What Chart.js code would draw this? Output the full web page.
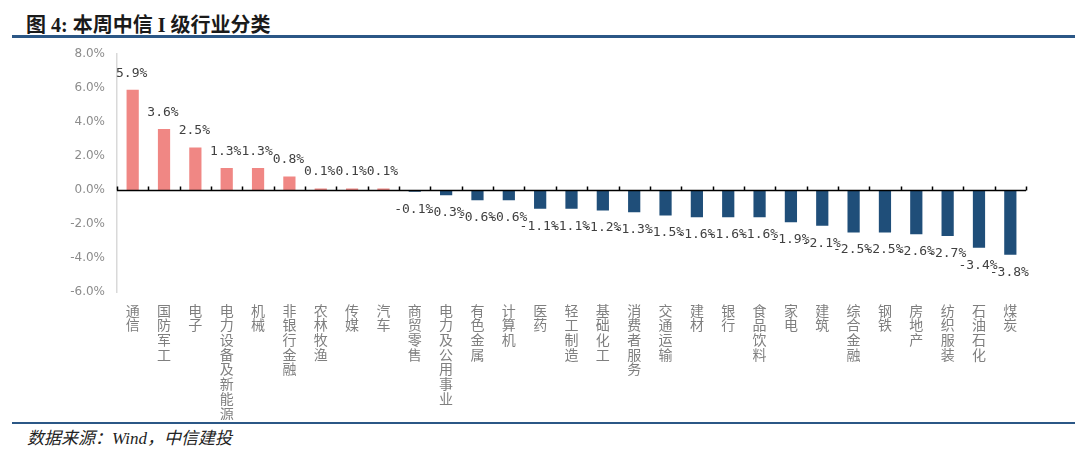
<!DOCTYPE html>
<html>
<head>
<meta charset="utf-8">
<script src="https://cdn.jsdelivr.net/npm/chart.js@4.4.0/dist/chart.umd.min.js"></script>
<style>
  body { margin: 0; width: 1080px; height: 457px; background: #fff; position: relative; overflow: hidden; }
  #title { position: absolute; left: 26px; top: 9px; font: bold 20px "Liberation Serif", "Noto Sans CJK SC", serif; color: #1a1a1a; white-space: pre; }
  .rule { position: absolute; left: 12px; width: 1063px; background: #2b5786; }
  #source { position: absolute; left: 27px; top: 424px; font: italic 17px "Liberation Serif", "Noto Sans CJK SC", serif; color: #222; }
  #wrap { position: absolute; left: 0; top: 35px; width: 1080px; height: 385px; }
</style>
</head>
<body>
<div id="title">图 4: 本周中信 I 级行业分类</div>
<div id="wrap"><canvas id="c"></canvas></div>
<div class="rule" style="top:35px;height:3px"></div>
<div class="rule" style="top:422px;height:2px"></div>
<div id="source">数据来源：Wind，中信建投</div>
<script>
// industry names, left to right
const industries = ['通信','国防军工','电子','电力设备及新能源','机械','非银行金融','农林牧渔','传媒','汽车',
  '商贸零售','电力及公用事业','有色金属','计算机','医药','轻工制造','基础化工','消费者服务','交通运输',
  '建材','银行','食品饮料','家电','建筑','综合金融','钢铁','房地产','纺织服装','石油石化','煤炭'];
// weekly change, %
const weeklyChange = [5.9,3.6,2.5,1.3,1.3,0.8,0.1,0.1,0.1,
  -0.1,-0.3,-0.6,-0.6,-1.1,-1.1,-1.2,-1.3,-1.5,
  -1.6,-1.6,-1.6,-1.9,-2.1,-2.5,-2.5,-2.6,-2.7,-3.4,-3.8];
const yTicks = [-6, -4, -2, 0, 2, 4, 6, 8];

const UP = '#f08784', DOWN = '#1f4e79';

// zero axis line with small upward ticks at category boundaries
const zeroAxis = {
  id: 'zeroAxis',
  afterDatasetsDraw(chart) {
    const {ctx, scales: {x, y}} = chart;
    const y0 = Math.round(y.getPixelForValue(0)) + 0.5;
    const step = x.getPixelForValue(1) - x.getPixelForValue(0);
    ctx.save();
    ctx.strokeStyle = '#000';
    ctx.lineWidth = 1.5;
    ctx.beginPath();
    ctx.moveTo(x.left, y0);
    ctx.lineTo(x.right, y0);
    for (let i = 0; i <= industries.length; i++) {
      const px = Math.round(x.getPixelForValue(0) - step / 2 + i * step) + 0.5;
      ctx.moveTo(px, y0);
      ctx.lineTo(px, y0 - 4);
    }
    ctx.stroke();
    ctx.restore();
  }
};

// value labels above / below each bar
const valueLabels = {
  id: 'valueLabels',
  afterDatasetsDraw(chart) {
    const {ctx} = chart;
    const meta = chart.getDatasetMeta(0);
    ctx.save();
    ctx.font = '13px "DejaVu Sans Mono", monospace';
    ctx.fillStyle = '#404040';
    ctx.textAlign = 'center';
    meta.data.forEach((bar, i) => {
      const v = weeklyChange[i];
      const txt = v.toFixed(1) + '%';
      if (v >= 0) {
        ctx.textBaseline = 'bottom';
        ctx.fillText(txt, bar.x - 1, bar.y - 10);
      } else {
        ctx.textBaseline = 'top';
        ctx.fillText(txt, bar.x - 1, bar.y + 11);
      }
    });
    ctx.restore();
  }
};

new Chart(document.getElementById('c'), {
  type: 'bar',
  data: {
    labels: industries.map(s => s.split('')),
    datasets: [{
      data: weeklyChange,
      backgroundColor: weeklyChange.map(v => v >= 0 ? UP : DOWN),
      barPercentage: 0.39,
      categoryPercentage: 1
    }]
  },
  options: {
    responsive: true,
    maintainAspectRatio: false,
    animation: false,
    layout: { padding: { top: 2, right: 54, left: 0, bottom: 0 } },
    plugins: { legend: { display: false }, tooltip: { enabled: false } },
    scales: {
      x: {
        grid: { display: false },
        border: { display: false },
        ticks: {
          autoSkip: false, maxRotation: 0, minRotation: 0, padding: 3,
          color: '#7f7f7f',
          font: { family: '"Noto Sans CJK SC", sans-serif', size: 14, lineHeight: 1.05 }
        },
        afterFit: s => { s.height = 128; }
      },
      y: {
        min: -6, max: 8,
        afterBuildTicks: s => { s.ticks = yTicks.map(v => ({ value: v })); },
        grid: { display: false, drawTicks: false },
        border: { display: true, color: '#d9d9d9', width: 1.5 },
        ticks: {
          padding: 12,
          color: '#8c8c8c',
          font: { family: '"DejaVu Sans", sans-serif', size: 12 },
          callback: v => v.toFixed(1) + '%'
        },
        afterFit: s => { s.width = 117; }
      }
    }
  },
  plugins: [zeroAxis, valueLabels]
});
</script>
</body>
</html>
